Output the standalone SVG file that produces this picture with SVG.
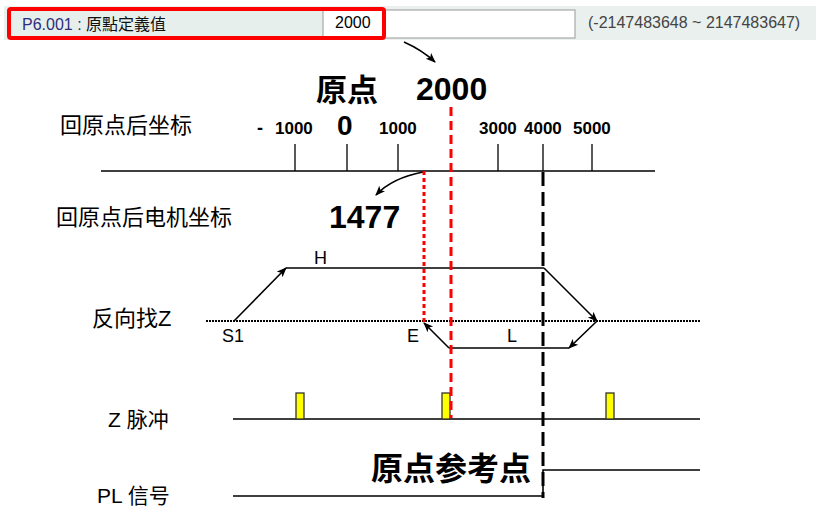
<svg xmlns="http://www.w3.org/2000/svg" width="821" height="512" viewBox="0 0 821 512">
<defs>
<style>
.cjk{font-family:"Liberation Sans","Noto Sans CJK SC",sans-serif;fill:#000}
.lbl{font-size:22px}
.lat{font-family:"Liberation Sans",Arial,sans-serif;fill:#000}
.bold{font-weight:bold}
.ln{stroke:#000;stroke-width:1.6;fill:none}
.tick{stroke:#000;stroke-width:1.3}
.pulse{fill:#ffff00;stroke:#333;stroke-width:1.3}
</style>
<marker id="ah" markerWidth="10" markerHeight="10" refX="9" refY="5" orient="auto" markerUnits="userSpaceOnUse">
<path d="M0,1 L10,5 L0,9 L2.5,5 z" fill="#000"/>
</marker>
</defs>
<rect width="821" height="512" fill="#fff"/>
<g id="param-bar">
<rect x="4" y="6" width="812" height="34" fill="#e9f0ee"/>
<rect x="12" y="11" width="311" height="26" fill="#e6efec"/>
<rect x="323" y="10" width="252" height="28" fill="#fff" stroke="#a8a8a8" stroke-width="1.2"/>
<rect x="9" y="9" width="375" height="29" rx="2" fill="none" stroke="#ff0000" stroke-width="4"/>
<text x="22" y="30" font-size="16" font-family="Liberation Sans,Noto Sans CJK TC,sans-serif"><tspan fill="#2d2d7c">P6.001 : </tspan><tspan fill="#111">原點定義值</tspan></text>
<text x="335" y="28" font-size="16" class="lat">2000</text>
<text x="588" y="28" font-size="16" font-family="Liberation Sans,sans-serif" fill="#444">(-2147483648 ~ 2147483647)</text>
</g>
<g id="title">
<text x="316" y="101" font-size="31" class="cjk bold">原点</text>
<text x="416" y="100" font-size="32" class="lat bold">2000</text>
</g>
<g id="axis">
<text x="60" y="133" class="cjk lbl">回原点后坐标</text>
<line x1="101" y1="171" x2="655" y2="171" class="ln"/>
<line x1="295" y1="144" x2="295" y2="171" class="tick"/>
<line x1="347" y1="144" x2="347" y2="171" class="tick"/>
<line x1="398" y1="144" x2="398" y2="171" class="tick"/>
<line x1="498" y1="144" x2="498" y2="171" class="tick"/>
<line x1="543" y1="144" x2="543" y2="171" class="tick"/>
<line x1="592" y1="144" x2="592" y2="171" class="tick"/>
<text x="257" y="134" font-size="18" class="lat bold">-</text>
<text x="275" y="134" font-size="17" class="lat bold">1000</text>
<text x="337" y="135" font-size="28" class="lat bold">0</text>
<text x="379" y="134" font-size="17" class="lat bold">1000</text>
<text x="479" y="134" font-size="17" class="lat bold">3000</text>
<text x="524" y="134" font-size="17" class="lat bold">4000</text>
<text x="573" y="134" font-size="17" class="lat bold">5000</text>
</g>
<g id="motor-coord">
<text x="56" y="225" class="cjk lbl">回原点后电机坐标</text>
<text x="329" y="228" font-size="32" class="lat bold">1477</text>
</g>
<g id="search">
<text x="92" y="326" class="cjk lbl">反向找Z</text>
<line x1="206" y1="321" x2="700" y2="321" stroke="#000" stroke-width="2" stroke-dasharray="2 1"/>
<text x="222" y="342" font-size="18" class="lat">S1</text>
<text x="314" y="264" font-size="18" class="lat">H</text>
<text x="407" y="342" font-size="18" class="lat">E</text>
<text x="507" y="342" font-size="18" class="lat">L</text>
</g>
<g id="zpulse">
<text x="108" y="427" font-size="21" class="cjk">Z 脉冲</text>
<line x1="233" y1="419" x2="700" y2="419" class="ln"/>
<rect x="296" y="393" width="8" height="26" class="pulse"/>
<rect x="442" y="393" width="8" height="26" class="pulse"/>
<rect x="606" y="393" width="8" height="26" class="pulse"/>
</g>
<g id="pl">
<text x="97" y="503" font-size="21" class="cjk">PL 信号</text>
<polyline points="233,496 543,496 543,470 700,470" class="ln"/>
<text x="371" y="480" font-size="32" class="cjk bold">原点参考点</text>
</g>
<g id="connectors">
<path d="M404,42 Q422,50 435,62" class="ln" marker-end="url(#ah)"/>
<path d="M423,172 Q392,178 376,195" class="ln" marker-end="url(#ah)"/>
<line x1="234" y1="321" x2="286" y2="268" class="ln" marker-end="url(#ah)"/>
<line x1="286" y1="268" x2="544" y2="268" class="ln"/>
<line x1="544" y1="268" x2="597" y2="321" class="ln" marker-end="url(#ah)"/>
<line x1="597" y1="321" x2="569" y2="348" class="ln" marker-end="url(#ah)"/>
<line x1="569" y1="348" x2="449" y2="348" class="ln"/>
<line x1="449" y1="348" x2="424" y2="323" class="ln" marker-end="url(#ah)"/>
<line x1="424" y1="171" x2="424" y2="322" stroke="#ff0000" stroke-width="3" stroke-dasharray="4 3"/>
<line x1="451" y1="107" x2="451" y2="418" stroke="#ff0000" stroke-width="3" stroke-dasharray="9 5"/>
<line x1="543" y1="172" x2="543" y2="498" stroke="#000" stroke-width="3" stroke-dasharray="14 6"/>
</g>
</svg>
